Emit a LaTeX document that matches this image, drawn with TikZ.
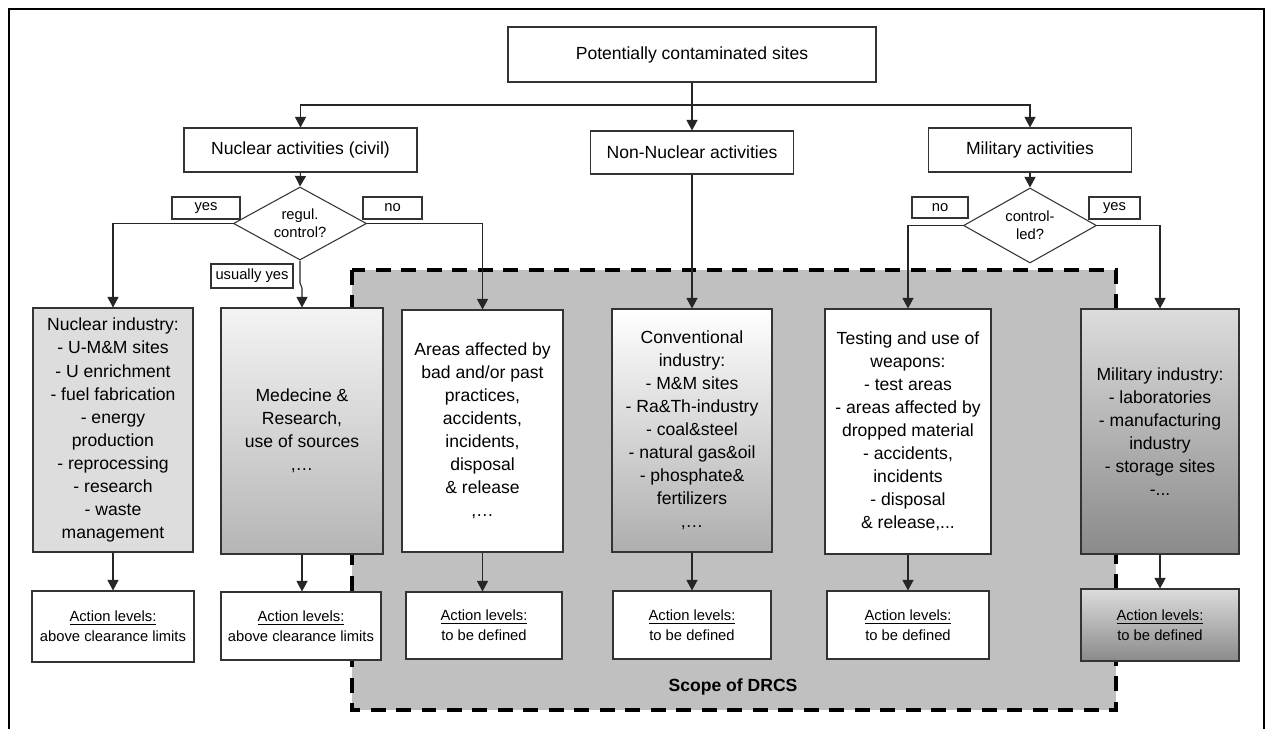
\documentclass[tikz,border=0pt]{standalone}
\usepackage{fontspec}
\setmainfont{Liberation Sans}
\usetikzlibrary{arrows.meta,shapes.geometric}

\definecolor{scopegray}{HTML}{C0C0C0}
\definecolor{nucgray}{HTML}{DDDDDD}
\definecolor{medtop}{HTML}{F4F4F4}
\definecolor{medbot}{HTML}{B5B5B5}
\definecolor{convbot}{HTML}{AEAEAE}
\definecolor{miltop}{HTML}{DCDCDC}
\definecolor{milbot}{HTML}{8A8A8A}

\begin{document}
\begin{tikzpicture}[x=0.02cm,y=-0.02cm,
  sz/.style 2 args={minimum width=#1*0.02cm,minimum height=#2*0.02cm},
  box/.style={draw=black!80,line width=0.6pt,inner sep=0pt,align=center,
    font=\fontsize{10}{13.1}\selectfont},
  act/.style={box,font=\fontsize{8.4}{11.4}\selectfont},
  tag/.style={draw=black!80,line width=0.6pt,inner sep=0pt,fill=white,
    font=\fontsize{8.4}{11.4}\selectfont},
  decision/.style={draw=black!80,line width=0.6pt,diamond,inner sep=0pt,
    aspect=1.8,align=center,fill=white,font=\fontsize{8.4}{10.3}\selectfont},
  link/.style={draw=black!85,line width=0.6pt},
  arr/.style={link,-{Triangle[length=6pt,width=6.3pt]}},
]
\useasboundingbox (0,0) rectangle (1266,729);

% page frame
\draw[line width=1.3pt] (9,729) -- (9,9) -- (1264,9) -- (1264,729);

% scope of DRCS
\draw[fill=scopegray,line width=2.3pt,dash pattern=on 8.5pt off 6pt]
  (352,270) rectangle (1116,710);
\node[font=\bfseries\fontsize{10}{12}\selectfont] (scopelbl) at (733,687) {Scope of DRCS};

% top levels
\node[box,sz={368}{55}] (top) at (692,54.5) {Potentially contaminated sites};
\node[box,sz={233}{44}] (nuc) at (300.5,150) {Nuclear activities (civil)};
\node[box,sz={203}{43}] (nonnuc) at (692,152.5) {Non-Nuclear activities};
\node[box,sz={203}{44}] (mil) at (1030,150) {Military activities};

% branch labels
\node[tag,sz={68}{22}] (yes1) at (206,208) {yes};
\node[tag,sz={59}{22}] (no1) at (392.5,208) {no};
\node[tag,sz={82}{24}] (usual) at (252,276) {usually yes};
\node[tag,sz={56}{21}] (no2) at (940,207.5) {no};
\node[tag,sz={51}{22}] (yes2) at (1114.5,208) {yes};

% decisions
\node[decision,sz={133}{73}] (q1) at (300,223.5) {regul.\\control?};
\node[decision,sz={133}{75}] (q2) at (1030,225.5) {control-\\led?};

% categories
\node[box,sz={160}{244},fill=nucgray] (nucind) at (113,430)
  {Nuclear industry:\\- U-M\&M sites\\- U enrichment\\- fuel fabrication\\- energy\\production\\- reprocessing\\- research\\- waste\\management};
\node[box,sz={162}{246},top color=medtop,bottom color=medbot] (med) at (302,431)
  {Medecine \&\\Research,\\use of sources\\,…};
\node[box,sz={161}{242},fill=white] (areas) at (482.5,431)
  {Areas affected by\\bad and/or past\\practices,\\accidents,\\incidents,\\disposal\\\& release\\,…};
\node[box,sz={160}{243},top color=white,bottom color=convbot] (conv) at (692,430.5)
  {Conventional\\industry:\\- M\&M sites\\- Ra\&Th-industry\\- coal\&steel\\- natural gas\&oil\\- phosphate\&\\fertilizers\\,…};
\node[box,sz={166}{245},fill=white] (test) at (908,431.5)
  {Testing and use of\\weapons:\\- test areas\\- areas affected by\\dropped material\\- accidents,\\incidents\\- disposal\\\& release,...};
\node[box,sz={158}{245},top color=miltop,bottom color=milbot] (milind) at (1160,431.5)
  {Military industry:\\- laboratories\\- manufacturing\\industry\\- storage sites\\-...};

% action levels
\node[act,sz={162}{71},fill=white] (act1) at (113,626.5) {\underline{Action levels:}\\above clearance limits};
\node[act,sz={160}{68},fill=white] (act2) at (301,626) {\underline{Action levels:}\\above clearance limits};
\node[act,sz={156}{67},fill=white] (act3) at (484,625.5) {\underline{Action levels:}\\to be defined};
\node[act,sz={158}{68},fill=white] (act4) at (692,625) {\underline{Action levels:}\\to be defined};
\node[act,sz={162}{68},fill=white] (act5) at (908,625) {\underline{Action levels:}\\to be defined};
\node[act,sz={158}{72},top color=miltop,bottom color=milbot] (act6) at (1160,625) {\underline{Action levels:}\\to be defined};

% connectors
\coordinate (split) at (692,105);
\draw[arr] (top.south) -- (nonnuc.north);
\draw[arr] (split) -| (nuc.north);
\draw[arr] (split) -| (mil.north);
\draw[arr] (nuc.south) -- (q1.north);
\draw[arr] (mil.south) -- (q2.north);
\draw[arr] (q1.west) -| (nucind.north);
\draw[arr] (q1.east) -| (areas.north);
\coordinate (bendA) at (300,283);
\coordinate (bendB) at (302,288);
\draw[arr] (q1.south) -- (bendA) -- (bendB) -- (med.north);
\draw[arr] (nonnuc.south) -- (conv.north);
\draw[arr] (q2.west) -| (test.north);
\draw[arr] (q2.east) -| (milind.north);

\draw[arr] (nucind.south) -- (nucind.south |- act1.north);
\draw[arr] (med.south) -- (med.south |- act2.north);
\draw[arr] (areas.south) -- (areas.south |- act3.north);
\draw[arr] (conv.south) -- (conv.south |- act4.north);
\draw[arr] (test.south) -- (test.south |- act5.north);
\draw[arr] (milind.south) -- (milind.south |- act6.north);
\end{tikzpicture}
\end{document}
